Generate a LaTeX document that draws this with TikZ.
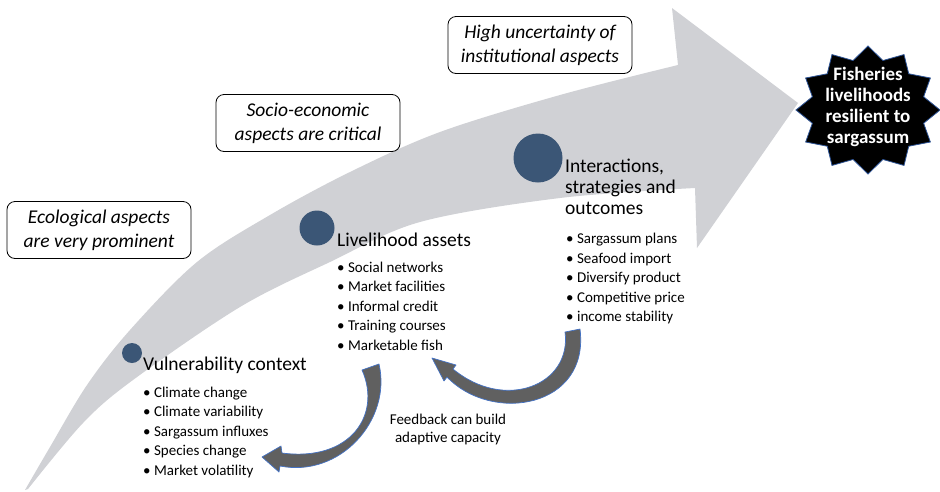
\documentclass[tikz,border=0pt]{standalone}
\usepackage{fontspec}
\setmainfont{Carlito}
\definecolor{arrowgrey}{RGB}{208,209,213}
\definecolor{dotblue}{RGB}{59,86,118}
\definecolor{fbgrey}{RGB}{96,96,96}
\definecolor{edgeblue}{RGB}{68,114,196}
\definecolor{staredge}{RGB}{47,85,151}
\newcommand\stackl[1]{\begin{tabular}[t]{@{}l@{}}#1\end{tabular}}
\tikzset{
  aspectbox/.style={draw=black, line width=0.8pt, rounded corners=8pt, fill=white,
    minimum width=184pt, minimum height=57pt, align=center, inner sep=0pt,
    font=\fontsize{19.5}{24}\selectfont\itshape},
  dot/.style={circle, fill=dotblue, inner sep=0pt},
  heading/.style={anchor=base west, inner sep=0pt, font=\fontsize{19.5}{21}\selectfont},
  items/.style={anchor=base west, inner sep=0pt, font=\fontsize{15}{19.5}\selectfont},
  fbarrow/.style={fill=fbgrey, draw=edgeblue, line width=0.7pt, line join=round},
  starline/.style={fill=black, draw=staredge, line width=0.8pt, line join=miter},
}
\begin{document}
\begin{tikzpicture}[x=1pt,y=-1pt]
\useasboundingbox (0,0) rectangle (940,491);

% big curved arrow
\fill[arrowgrey] (25,490)
  -- plot[smooth, tension=0.55] coordinates {(25,490) (50,447) (87,385) (130,330) (197,262) (270,215) (350,172) (440,132) (560,95) (678,65)}
  -- (672,8) -- (798,103) -- (697,248) -- (695,188)
  -- plot[smooth, tension=0.55] coordinates {(695,188) (560,198) (420,222) (330,262) (240,307) (133,380) (83,423) (28,489)}
  -- cycle;

% aspect boxes
\node[aspectbox] (eco) at (99,230) {Ecological aspects\\are very prominent};
\node[aspectbox] (soc) at (308,123) {Socio-economic\\aspects are critical};
\node[aspectbox] (inst) at (540,45) {High uncertainty of\\institutional aspects};

% dots
\node[dot, minimum size=20pt] (vulndot) at (132,353) {};
\node[dot, minimum size=35pt] (livedot) at (317,228) {};
\node[dot, minimum size=49pt] (interdot) at (538,158) {};

% headings and lists
\node[heading] (vulnhead) at (143,370) {Vulnerability context};
\node[items] (vulnlist) at (143,397) {\stackl{• Climate change\\• Climate variability\\• Sargassum influxes\\• Species change\\• Market volatility}};

\node[heading] (livehead) at (337,246) {Livelihood assets};
\node[items] (livelist) at (337,272) {\stackl{• Social networks\\• Market facilities\\• Informal credit\\• Training courses\\• Marketable fish}};

\node[heading] (interhead) at (565,172) {\stackl{Interactions,\\strategies and\\outcomes}};
\node[items] (interlist) at (566,243.5) {\stackl{• Sargassum plans\\• Seafood import\\• Diversify product\\• Competitive price\\• income stability}};

% feedback arrows
\draw[fbarrow] (362,370) .. controls (382,415) and (350,462) .. (282,453)
  -- (281,446) -- (262,457) -- (279,472) -- (280,466)
  .. controls (340,478) and (392,420) .. (379,364) -- cycle;
\draw[fbarrow] (565,332) .. controls (572,385) and (505,412) .. (453,369)
  -- (456,365) -- (432,358) -- (444,381) -- (447,377)
  .. controls (492,424) and (590,408) .. (580,329) -- cycle;

\node[font=\fontsize{15}{18}\selectfont, align=center, inner sep=0pt] (feedback) at (448,429) {Feedback can build\\adaptive capacity};

% goal star
\draw[starline] plot[samples at={0,...,23}, variable=\k]
  ({868+(72-14.4*mod(\k,2))*cos(90+15*\k)}, {110-(64-12.8*mod(\k,2))*sin(90+15*\k)}) -- cycle;
\node[text=white, font=\fontsize{19}{21}\selectfont\bfseries, align=center, inner sep=0pt] (goal) at (868,107) {Fisheries\\livelihoods\\resilient to\\sargassum};
\end{tikzpicture}
\end{document}
